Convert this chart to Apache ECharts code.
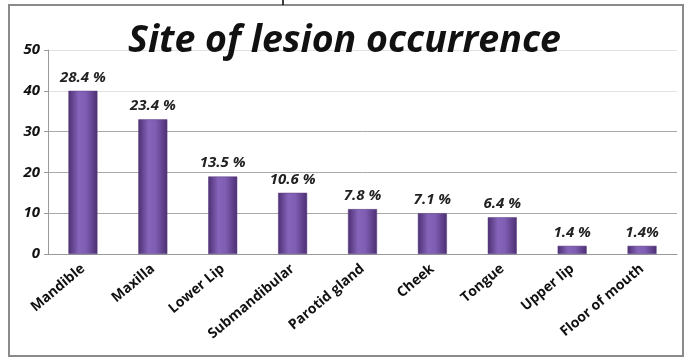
<!DOCTYPE html>
<html>
<head>
<meta charset="utf-8">
<script src="https://cdn.jsdelivr.net/npm/echarts@6/dist/echarts.min.js"></script>
<style>
  html, body { margin: 0; padding: 0; background: #fff; }
  #chart { width: 689px; height: 361px; }
</style>
</head>
<body>
<div id="chart"></div>
<script>
// Lesion counts per anatomical site, with their share of all cases
const sites = ['Mandible', 'Maxilla', 'Lower Lip', 'Submandibular', 'Parotid gland', 'Cheek', 'Tongue', 'Upper lip', 'Floor of mouth'];
const counts = [40, 33, 19, 15, 11, 10, 9, 2, 2];
const shareLabels = ['28.4 %', '23.4 %', '13.5 %', '10.6 %', '7.8 %', '7.1 %', '6.4 %', '1.4 %', '1.4%'];
const yTicks = [0, 10, 20, 30, 40, 50];

const chart = echarts.init(document.getElementById('chart'));

const barFill = new echarts.graphic.LinearGradient(0, 0, 1, 0, [
  { offset: 0, color: '#4c2f72' },
  { offset: 0.35, color: '#8664ba' },
  { offset: 0.6, color: '#7f5db3' },
  { offset: 1, color: '#4c2f72' }
]);

chart.setOption({
  animation: false,
  title: {
    text: 'Site of lesion occurrence',
    left: 'center',
    top: 17,
    textStyle: { fontFamily: 'Open Sans', fontWeight: 'bold', fontStyle: 'italic', fontSize: 37.5, color: '#111' }
  },
  graphic: [
    { type: 'rect', shape: { x: 9, y: 5, width: 674, height: 351 }, style: { fill: 'none', stroke: '#8a8a8a', lineWidth: 2 }, z: -1 },
    { type: 'line', shape: { x1: 283, y1: 0, x2: 283, y2: 5 }, style: { stroke: '#000', lineWidth: 1.5 } }
  ],
  grid: { left: 48, right: 12, top: 50, bottom: 107 },
  xAxis: {
    type: 'category',
    data: sites,
    axisLine: { lineStyle: { color: '#999' } },
    axisTick: { lineStyle: { color: '#999' }, length: 5 },
    axisLabel: {
      rotate: 40, interval: 0, margin: 13,
      fontFamily: 'Open Sans', fontWeight: 'bold', fontSize: 14, color: '#111'
    }
  },
  yAxis: {
    type: 'value',
    min: yTicks[0], max: yTicks[yTicks.length - 1], interval: 10,
    axisLine: { show: true, lineStyle: { color: '#999' } },
    axisTick: { show: true, length: 4, lineStyle: { color: '#999' } },
    axisLabel: {
      margin: 8,
      fontFamily: 'Open Sans', fontWeight: 'bold', fontStyle: 'italic', fontSize: 15, color: '#111'
    },
    splitLine: { lineStyle: { color: ['#aaa', '#aaa', '#aaa', '#aaa', '#e2e2e2', '#e2e2e2'], width: 1 } }
  },
  series: [{
    type: 'bar',
    data: counts,
    barWidth: 29,
    itemStyle: { color: barFill, borderColor: '#5a3d80', borderWidth: 0.5 },
    label: {
      show: true,
      position: 'top',
      distance: 6,
      formatter: p => shareLabels[p.dataIndex],
      fontFamily: 'Open Sans', fontWeight: 'bold', fontStyle: 'italic', fontSize: 15, color: '#222'
    }
  }]
});
</script>
</body>
</html>
